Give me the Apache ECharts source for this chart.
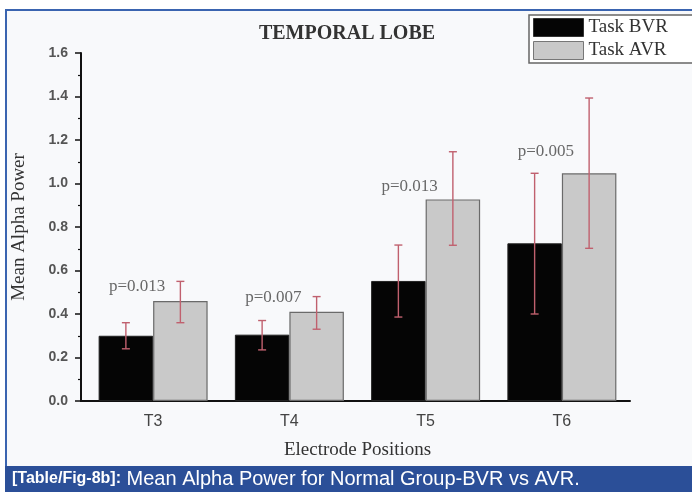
<!DOCTYPE html>
<html><head><meta charset="utf-8">
<script src="https://cdn.jsdelivr.net/npm/echarts@6/dist/echarts.min.js"></script>
<style>html,body{margin:0;padding:0;background:#fff}#c{width:692px;height:492px}</style>
</head><body><div id="c"></div>
<script>
const categories = ['T3', 'T4', 'T5', 'T6'];
const bvrMean = [0.30, 0.305, 0.552, 0.725];
const bvrLow  = [0.24, 0.235, 0.386, 0.40];
const bvrHigh = [0.36, 0.37, 0.717, 1.047];
const avrMean = [0.46, 0.41, 0.927, 1.047];
const avrLow  = [0.36, 0.33, 0.716, 0.702];
const avrHigh = [0.55, 0.48, 1.146, 1.393];
const pLabels = ['p=0.013', 'p=0.007', 'p=0.013', 'p=0.005'];
const pLabelY = [0.524, 0.478, 0.984, 1.145];
const yTicks = [0, 0.2, 0.4, 0.6, 0.8, 1.0, 1.2, 1.4, 1.6];

const serif = '"Liberation Serif", "DejaVu Serif", serif';
const sans = '"Liberation Sans", Arial, sans-serif';

function errSeries(low, high, side) {
  return {
    type: 'custom',
    z: 5,
    silent: true,
    data: categories.map((c, i) => [i, low[i], high[i]]),
    renderItem: function (params, api) {
      const band = api.size([1, 0])[0];
      const off = side * band * 0.2;
      const p1 = api.coord([api.value(0), api.value(1)]);
      const p2 = api.coord([api.value(0), api.value(2)]);
      const x = p1[0] + off;
      const cap = 4;
      const st = { stroke: '#c0606e', lineWidth: 1.4 };
      return {
        type: 'group',
        children: [
          { type: 'line', shape: { x1: x, y1: p1[1], x2: x, y2: p2[1] }, style: st },
          { type: 'line', shape: { x1: x - cap, y1: p1[1], x2: x + cap, y2: p1[1] }, style: st },
          { type: 'line', shape: { x1: x - cap, y1: p2[1], x2: x + cap, y2: p2[1] }, style: st }
        ]
      };
    }
  };
}

const chart = echarts.init(document.getElementById('c'), null, { renderer: 'canvas' });
chart.setOption({
  animation: false,
  backgroundColor: '#ffffff',
  graphic: [
    { type: 'rect', z: -10, shape: { x: 6, y: 10, width: 700, height: 470 },
      style: { fill: '#f8f9fb', stroke: '#3a64b0', lineWidth: 2 } },
    { type: 'rect', z: -5, shape: { x: 5, y: 466, width: 700, height: 30 },
      style: { fill: '#2b4f98' } },
    { type: 'text', left: 12, top: 469, z: 10,
      style: { text: '{b|[Table/Fig-8b]:} Mean Alpha Power for Normal Group-BVR vs AVR.',
        fill: '#ffffff', font: '20px "Liberation Sans", Arial, sans-serif',
        rich: { b: { fontWeight: 'bold', fontSize: 16, fill: '#ffffff', fontFamily: sans } } } },
    { type: 'line', z: 3, shape: { x1: 80, y1: 401, x2: 86, y2: 401 },
      style: { stroke: '#111', lineWidth: 2 } }
  ],
  title: {
    text: 'TEMPORAL LOBE',
    left: 342, top: 19, textAlign: 'center',
    textStyle: { fontFamily: serif, fontSize: 20, fontWeight: 'bold', color: '#333' }
  },
  legend: {
    left: 529, top: 15,
    orient: 'vertical',
    itemWidth: 50, itemHeight: 18, itemGap: 4,
    padding: [3, 30, 3, 4],
    borderColor: '#666', borderWidth: 1.5,
    backgroundColor: '#fff',
    textStyle: { fontFamily: serif, fontSize: 19, color: '#333' },
    data: [
      { name: 'Task BVR', icon: 'rect', itemStyle: { color: '#050505', borderColor: '#333', borderWidth: 1 } },
      { name: 'Task AVR', icon: 'rect', itemStyle: { color: '#c9c9c9', borderColor: '#777', borderWidth: 1 } }
    ]
  },
  grid: { left: 85, right: 62, top: 53, bottom: 91, containLabel: false },
  xAxis: {
    type: 'category',
    data: categories,
    name: 'Electrode Positions',
    nameLocation: 'middle',
    nameGap: 40,
    nameTextStyle: { fontFamily: serif, fontSize: 19, color: '#333' },
    axisLine: { lineStyle: { color: '#111', width: 2 } },
    axisTick: { alignWithLabel: true, length: 5, lineStyle: { color: '#111', width: 2 } },
    axisLabel: { fontFamily: sans, fontSize: 16, color: '#444', margin: 13 }
  },
  yAxis: {
    type: 'value',
    min: 0, max: 1.6, interval: 0.2,
    offset: 4,
    name: 'Mean Alpha Power',
    nameLocation: 'middle',
    nameGap: 52,
    nameTextStyle: { fontFamily: serif, fontSize: 19, color: '#333' },
    splitLine: { show: false },
    axisLine: { show: true, lineStyle: { color: '#111', width: 2 } },
    axisTick: { show: true, length: 6, lineStyle: { color: '#111', width: 1.5 } },
    minorTick: { show: true, splitNumber: 2, length: 3, lineStyle: { color: '#111', width: 1.2 } },
    axisLabel: { fontFamily: sans, fontSize: 14, fontWeight: 'bold', color: '#555', margin: 13,
      formatter: v => { const t = yTicks.find(x => Math.abs(x - v) < 1e-6); return (t === undefined ? v : t).toFixed(1); } }
  },
  series: [
    { name: 'Task BVR', type: 'bar', data: bvrMean, barGap: '0%', barCategoryGap: '20%',
      itemStyle: { color: '#050505', borderColor: '#222', borderWidth: 1 } },
    { name: 'Task AVR', type: 'bar', data: avrMean,
      itemStyle: { color: '#c9c9c9', borderColor: '#6a6a6a', borderWidth: 1.2 } },
    errSeries(bvrLow, bvrHigh, -1),
    errSeries(avrLow, avrHigh, 1),
    { type: 'scatter', symbolSize: 0, silent: true, z: 6,
      data: categories.map((c, i) => [i, pLabelY[i]]),
      label: { show: true, position: 'inside', offset: [-16, 0],
        formatter: p => pLabels[p.dataIndex],
        fontFamily: serif, fontSize: 17, color: '#444' } }
  ]
});
</script>
</body></html>
